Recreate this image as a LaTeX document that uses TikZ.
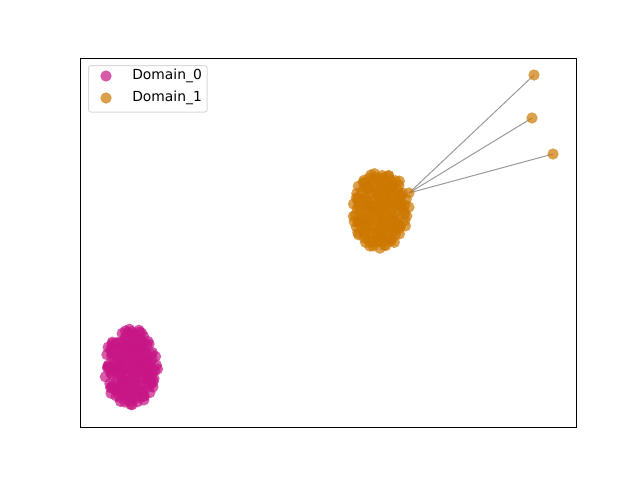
\documentclass[tikz,border=0pt]{standalone}
\usepackage{fontspec}
\setmainfont{DejaVu Sans}
\pgfdeclarelayer{background}
\pgfsetlayers{background,main}
\definecolor{magc}{RGB}{199,21,133}
\definecolor{orac}{RGB}{204,119,0}
\definecolor{edgec}{RGB}{128,128,128}
\tikzset{
  pt/.style={circle,inner sep=0pt,minimum size=8.5pt,fill opacity=0.7,draw=none},
  mnode/.style={pt,fill=magc},
  onode/.style={pt,fill=orac},
  edge/.style={draw=edgec,line width=0.75pt,draw opacity=0.8},
  frame/.style={draw=black,line width=0.8pt},
  legbox/.style={draw=black!15,fill=white,rounded corners=2pt,line width=0.75pt},
  legtext/.style={anchor=west,inner sep=0pt,font=\fontsize{10.4}{12}\selectfont}
}
\begin{document}
\begin{tikzpicture}[x=0.75pt,y=-0.75pt]
\useasboundingbox (0,0) rectangle (640,480);
\node[frame,draw,minimum width=372pt,minimum height=276.75pt,anchor=north west,inner sep=0pt] (ax) at (80,58) {};
% magenta cluster
\pgfmathsetseed{7}
\foreach \i in {0,...,179}{
  \pgfmathsetmacro\r{sqrt((\i+0.5)/180)}
  \pgfmathsetmacro\f{\i*0.381966}
  \pgfmathsetmacro\t{(\f-floor(\f))*360+10*rand}
  \pgfmathsetmacro\dx{1.2*rand}
  \pgfmathsetmacro\dy{1.2*rand}
  \node[mnode] (m\i) at ({131+\dx+26*\r*cos(\t)},{367+\dy+39*\r*sin(\t)}) {};
}
% orange cluster
\pgfmathsetseed{11}
\foreach \i in {0,...,179}{
  \pgfmathsetmacro\r{sqrt((\i+0.5)/180)}
  \pgfmathsetmacro\f{\i*0.381966}
  \pgfmathsetmacro\t{(\f-floor(\f))*360+10*rand}
  \pgfmathsetmacro\dx{1.2*rand}
  \pgfmathsetmacro\dy{1.2*rand}
  \node[onode] (o\i) at ({380+\dx+28*\r*cos(\t)},{210+\dy+39*\r*sin(\t)}) {};
}
\node[onode] (hub) at (409,193) {};
\node[onode] (a) at (534,75) {};
\node[onode] (b) at (532,118) {};
\node[onode] (c) at (553,154) {};
\begin{pgfonlayer}{background}
\draw[edge] (hub.center) -- (a.center);
\draw[edge] (hub.center) -- (b.center);
\draw[edge] (hub.center) -- (c.center);
\end{pgfonlayer}
% legend
\node[legbox,minimum width=89pt,minimum height=35pt,anchor=north west,inner sep=0pt] (leg) at (88,65) {};
\node[mnode] (lm) at (106,76) {};
\node[onode] (lo) at (106,98) {};
\node[legtext] (lt0) at (132,76) {Domain\_0};
\node[legtext] (lt1) at (132,98) {Domain\_1};
\end{tikzpicture}
\end{document}
